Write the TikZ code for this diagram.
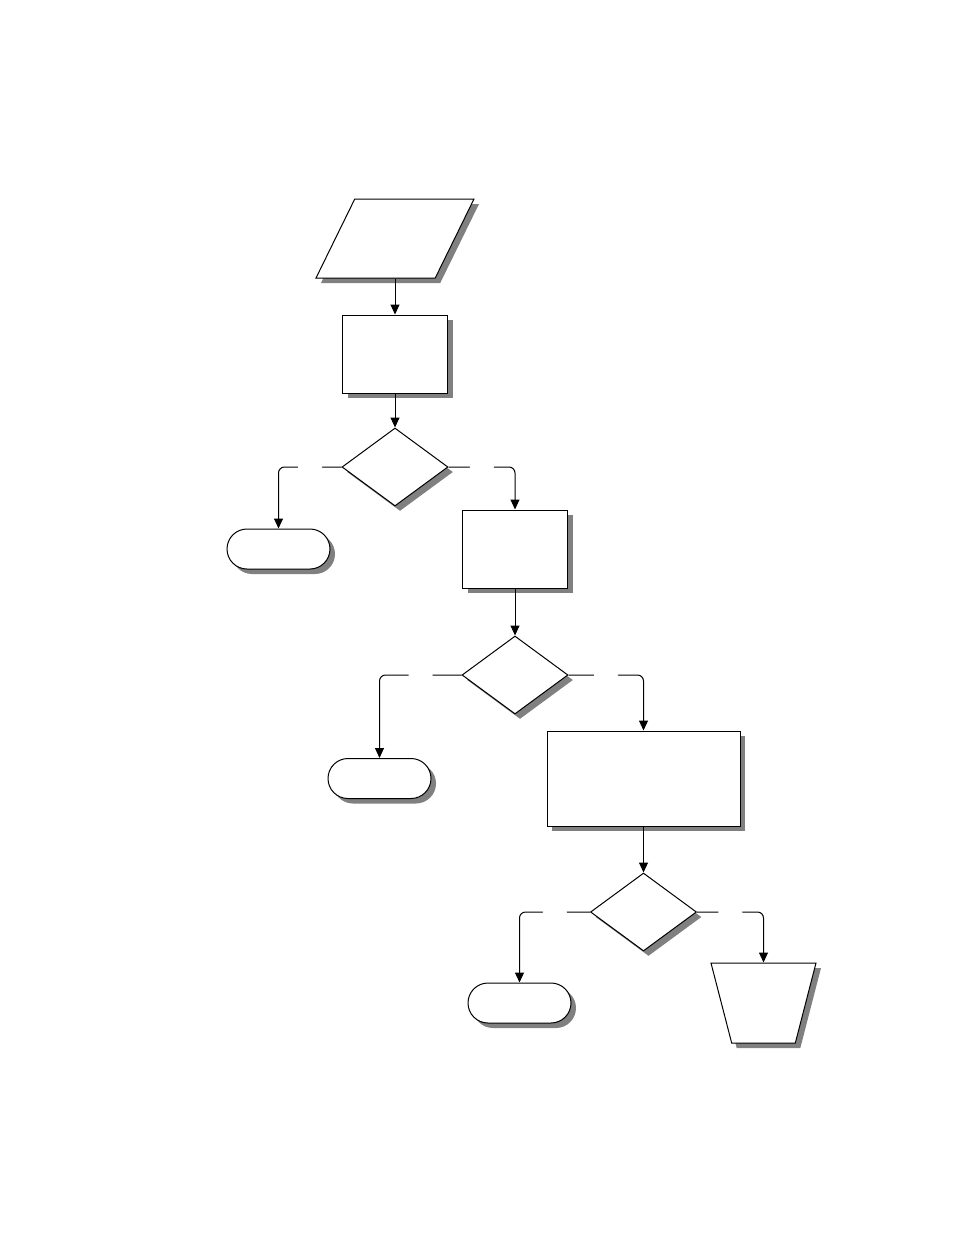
\documentclass[tikz,border=0pt]{standalone}
\usetikzlibrary{arrows.meta,shapes.geometric,shapes.misc,shadows}

\tikzset{
  shade/.style={drop shadow={shadow xshift=5pt,shadow yshift=-5pt,fill=black!50,opacity=1}},
  box/.style={draw,fill=white,line width=1pt,inner sep=1pt,shade},
  proc/.style={box,rectangle,minimum width=105pt,minimum height=78pt},
  test/.style={box,diamond,minimum width=106pt,minimum height=78pt},
  term/.style={box,rounded rectangle,minimum width=105pt,minimum height=40pt},
  lblgap/.style={fill=white,draw=none,inner sep=0pt,minimum width=24pt,minimum height=8pt}
}

\begin{document}
\begin{tikzpicture}[x=1pt,y=1pt,line width=1pt,>={Triangle[length=10pt,width=9pt]}]
\useasboundingbox (0,0) rectangle (954,-1235);

\node[box,trapezium,trapezium left angle=64.3,trapezium right angle=115.7,
      trapezium stretches,minimum width=158pt,minimum height=79pt] (data) at (395,-238.5) {};
\node[proc] (p1) at (395,-354) {};
\node[test] (d1) at (395,-467) {};
\node[term] (t1) at (278.5,-549) {};
\node[proc] (p2) at (515,-549) {};
\node[test] (d2) at (515,-675) {};
\node[term] (t2) at (379.5,-778.5) {};
\node[proc,minimum width=193pt,minimum height=95pt] (p3) at (643.5,-778.5) {};
\node[test] (d3) at (643.5,-912) {};
\node[term] (t3) at (519.5,-1003) {};
\node[box,trapezium,trapezium left angle=108,trapezium right angle=108,
      trapezium stretches,minimum width=105pt,minimum height=80pt] (out) at (763.5,-1003) {};

\draw[->] (data.south -| p1.north) -- (p1.north);
\draw[->] (p1) -- (d1);
\draw[->,rounded corners=6pt] (d1.west) -| node[lblgap,pos=0.25] {} (t1.north);
\draw[->,rounded corners=6pt] (d1.east) -| node[lblgap,pos=0.25] {} (p2.north);
\draw[->] (p2) -- (d2);
\draw[->,rounded corners=6pt] (d2.west) -| node[lblgap,pos=0.25] {} (t2.north);
\draw[->,rounded corners=6pt] (d2.east) -| node[lblgap,pos=0.25] {} (p3.north);
\draw[->] (p3) -- (d3);
\draw[->,rounded corners=6pt] (d3.west) -| node[lblgap,pos=0.25] {} (t3.north);
\draw[->,rounded corners=6pt] (d3.east) -| node[lblgap,pos=0.25] {} (out.north);
\end{tikzpicture}
\end{document}
